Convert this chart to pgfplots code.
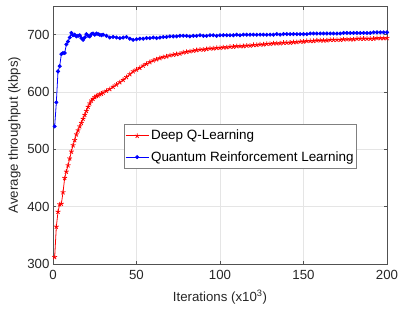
\documentclass[border=0pt]{standalone}
\usepackage{pgfplots}
\pgfplotsset{compat=1.18}
\usepackage{fontspec}
\setmainfont{Liberation Sans}
\definecolor{axgray}{RGB}{38,38,38}
\begin{document}
\begin{tikzpicture}
\begin{axis}[
  scale only axis,
  width=334bp, height=258bp,
  xmin=0, xmax=200, ymin=300, ymax=750,
  xtick={0,50,100,150,200},
  ytick={300,400,500,600,700},
  font=\fontsize{13.3}{15}\selectfont,
  /pgf/number format/assume math mode=true,
  grid=major,
  major grid style={color=black!10, line width=0.5pt},
  axis line style={color=axgray!80, line width=0.5pt},
  tick style={color=axgray!80, line width=0.5pt},
  tick align=inside,
  major tick length=3.5bp,
  ticklabel style={color=axgray},
  xticklabel style={yshift=-3bp},
  label style={color=axgray},
  xlabel={Iterations (x10\textsuperscript{3})},
  ylabel={Average throughput (kbps)},
  xlabel style={yshift=-3bp},
  ylabel style={yshift=0bp},
  legend cell align=left,
  legend style={at={(0.2126,0.5426)}, anchor=north west, draw=black!50, line width=0.5pt,
    font=\fontsize{13.5}{15}\selectfont, inner xsep=1pt, inner ysep=4pt, row sep=6pt},
  legend image code/.code={
    \draw[mark repeat=2,mark phase=2,#1] plot coordinates {(0bp,0bp) (11.5bp,0bp) (23bp,0bp)};
  },
]
\addplot[color=red, line width=0.8pt, mark=star, mark size=2.5pt, mark options={solid}] coordinates {
(1,312)(2,365)(3,391)(4,404)(5,405)(6,425)(7,450)(8,461)(9,472)(10,484)
(11,496)(12,507)(13,516)(14,526)(15,533)(16,540)(17,546)(18,553)(19,560)(20,567)
(21,574)(22,580)(23,585)(24,588)(25,591)(26,593)(27,594)(28,596)(29,597)(30,599)
(32,602)(34,605)(36,609)(38,613)(40,617)(42,621)(44,626)(46,631)(48,636)(50,639)
(52,642)(54,646)(56,649)(58,652)(60,655)(62,657)(64,659)(66,661)(68,662)(70,664)
(72,665)(74,666)(76,667)(78,669)(80,670)(82,671)(84,672)(86,673)(88,674)(90,674)
(92,675)(94,676)(96,676)(98,677)(100,677)(102,678)(104,678)(106,679)(108,679)(110,680)
(112,680)(114,680)(116,681)(118,681)(120,682)(122,682)(124,683)(126,683)(128,684)(130,684)
(132,685)(134,685)(136,685)(138,686)(140,686)(142,686)(144,687)(146,687)(148,688)(150,688)
(152,689)(154,689)(156,689)(158,690)(160,690)(162,690)(164,690)(166,691)(168,691)(170,691)
(172,691)(174,692)(176,692)(178,692)(180,692)(182,693)(184,693)(186,693)(188,693)(190,693)
(192,693)(194,694)(196,694)(198,694)(200,694)
};
\addlegendentry{Deep Q-Learning}
\addplot[color=blue, line width=0.8pt, mark=*, mark size=1.6pt, mark options={solid}] coordinates {
(1,540)(2,582)(3,636)(4,645)(5,666)(6,668)(7,668)(8,683)(9,688)(10,695)
(11,703)(12,699)(13,700)(14,697)(15,698)(16,699)(17,694)(18,691)(19,695)(20,701)
(21,698)(22,697)(23,701)(24,702)(25,700)(26,702)(27,701)(28,700)(29,699)(30,700)
(32,698)(34,695)(36,696)(38,695)(40,694)(42,695)(44,696)(46,693)(48,691)(50,692)
(52,693)(54,693)(56,694)(58,694)(60,695)(62,694)(64,695)(66,696)(68,696)(70,697)
(72,697)(74,697)(76,698)(78,698)(80,698)(82,697)(84,698)(86,698)(88,699)(90,698)
(92,698)(94,699)(96,699)(98,698)(100,699)(102,699)(104,699)(106,699)(108,699)(110,700)
(112,699)(114,700)(116,700)(118,700)(120,700)(122,700)(124,700)(126,700)(128,700)(130,700)
(132,700)(134,701)(136,700)(138,701)(140,701)(142,701)(144,701)(146,701)(148,701)(150,701)
(152,701)(154,702)(156,702)(158,702)(160,702)(162,702)(164,702)(166,702)(168,702)(170,702)
(172,702)(174,703)(176,703)(178,703)(180,703)(182,703)(184,703)(186,703)(188,703)(190,703)
(192,704)(194,704)(196,704)(198,704)(200,704)
};
\addlegendentry{Quantum Reinforcement Learning}
\end{axis}
\pgfresetboundingbox
\path (current axis.south west) ++(-53bp,-48bp) rectangle ++(402bp,312bp);
\end{tikzpicture}
\end{document}
